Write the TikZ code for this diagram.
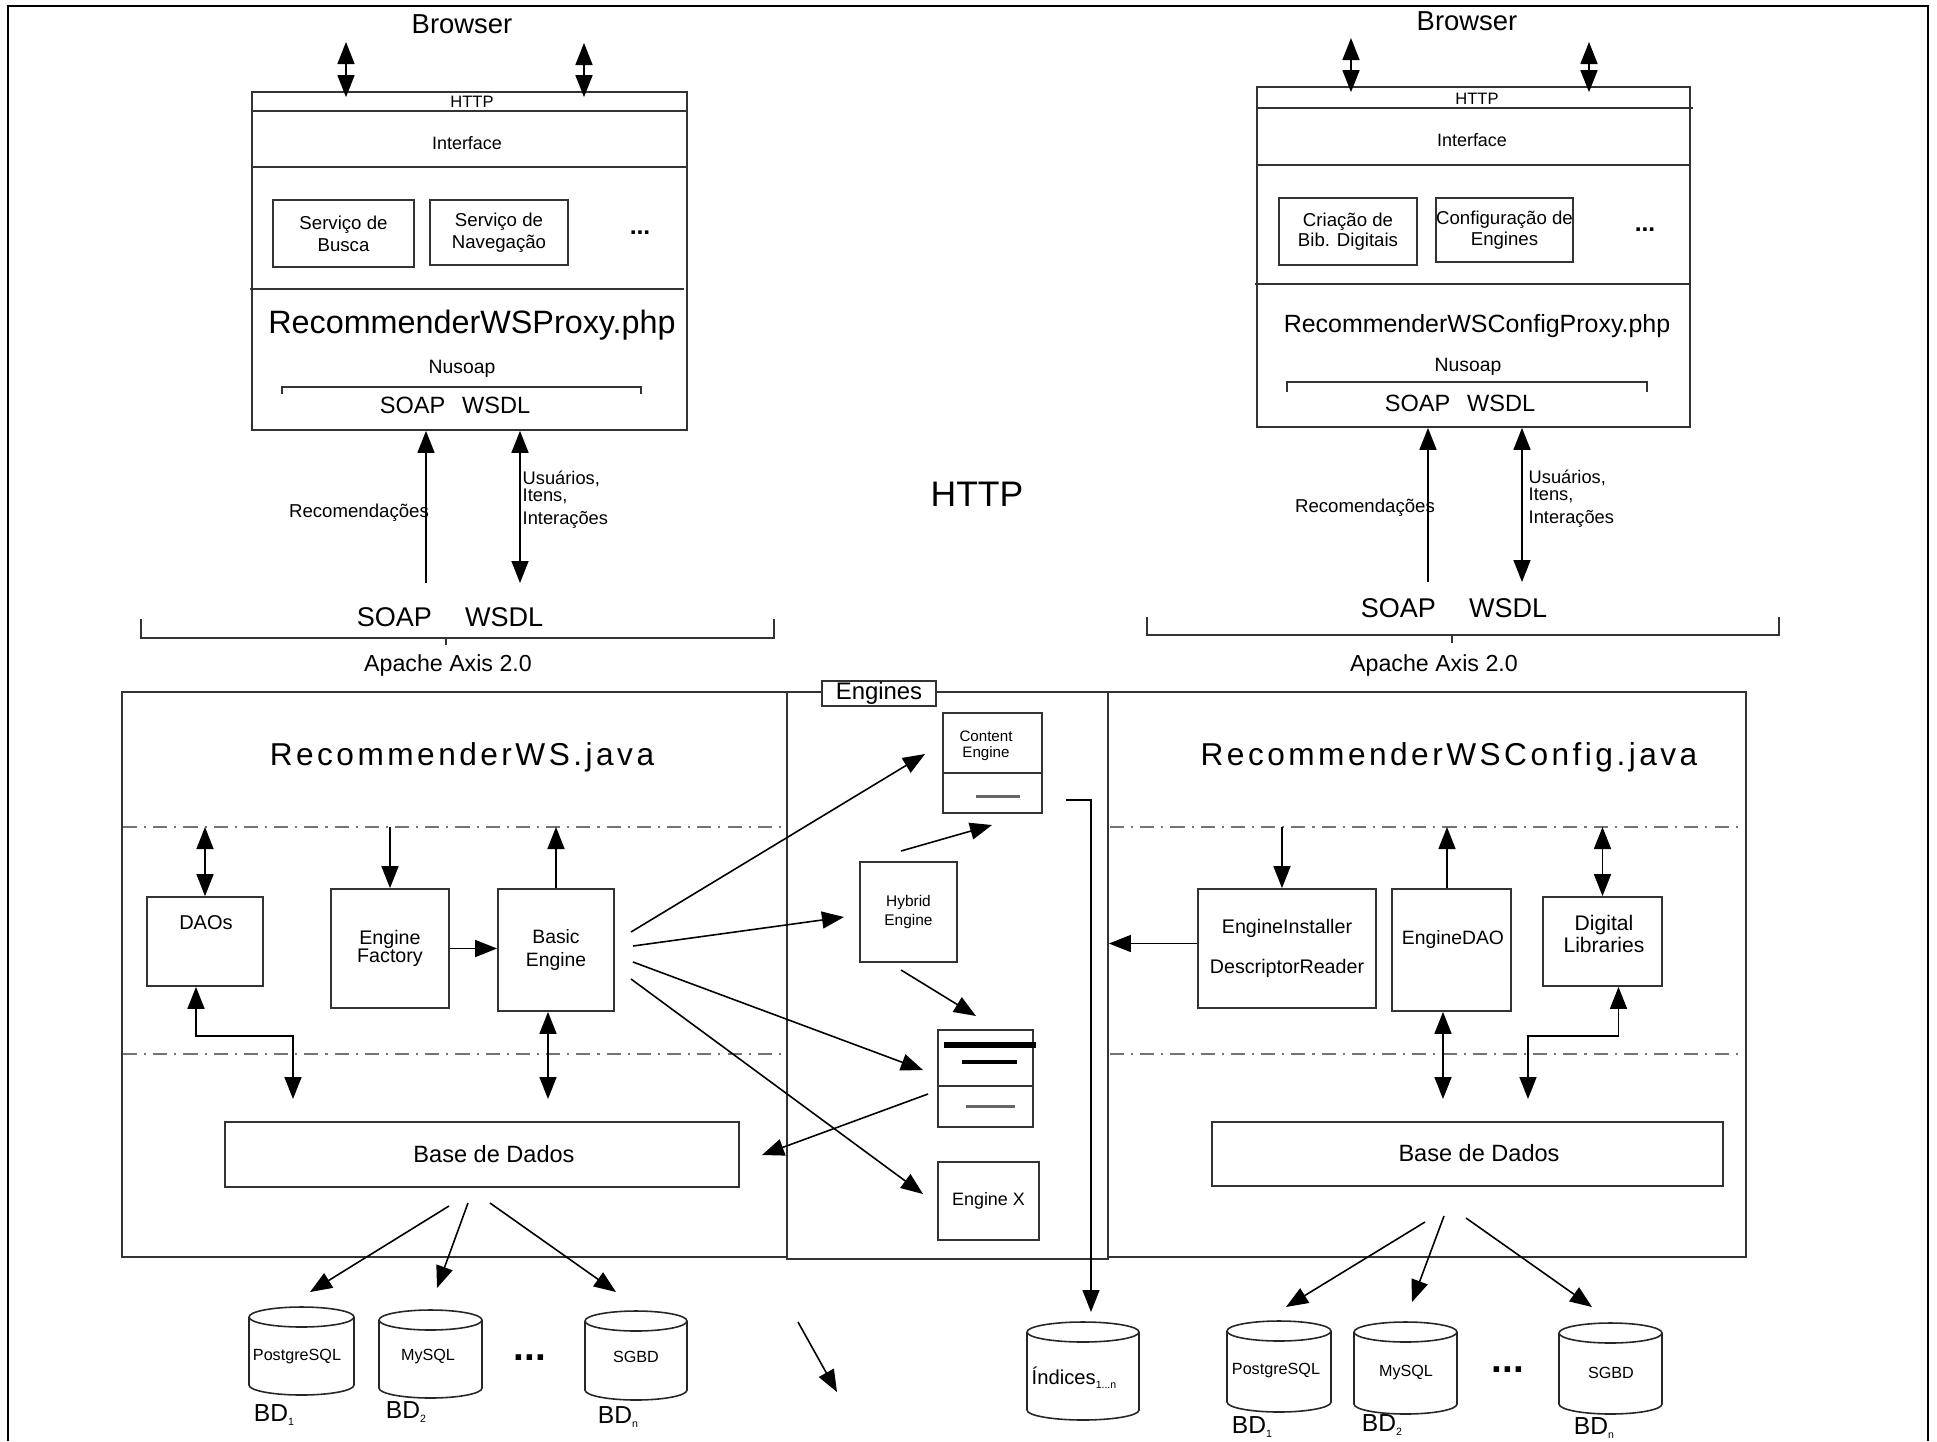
\documentclass[tikz,border=0pt]{standalone}
\usepackage{fontspec}
\setmainfont{Liberation Sans}
\newfontfamily\spacedfont[LetterSpace=11]{Liberation Sans}
\usetikzlibrary{arrows.meta}
\newcommand\dbsub[1]{\raisebox{-1.2pt}{\fontsize{3}{3}\selectfont #1}}
\tikzset{rule/.style={draw=black!80,line width=.5pt},
  box/.style={rule,inner sep=0pt,align=center},
  lbl/.style={inner sep=0pt,align=center,font=\fontsize{5.4}{6.2}\selectfont},
  lbltiny/.style={inner sep=0pt,align=center,font=\fontsize{4.3}{4.6}\selectfont},
  titletxt/.style={inner sep=0pt,font=\spacedfont\fontsize{9}{10}\selectfont},
  arr/.style={-{Triangle[length=2.2mm,width=1.7mm]},line width=.45pt},
  darr/.style={{Triangle[length=2.2mm,width=1.7mm]}-{Triangle[length=2.2mm,width=1.7mm]},line width=.45pt},
  layer/.style={draw=black!55,line width=.6pt,dash pattern=on 4pt off 2pt on .6pt off 2pt},
  cyl/.style={draw=black!85,line width=.45pt}}
\begin{document}
\begin{tikzpicture}[x=.1mm,y=-.1mm]
\useasboundingbox (0,0) rectangle (1937,1441);
\draw[line width=.6pt] (8,1441) -- (8,6) -- (1928,6) -- (1928,1441);

% php proxies
\node[box,minimum width=43.5mm,minimum height=33.8mm] (proxyL) at (469.5,261) {};
\node[box,minimum width=43.3mm,minimum height=34mm] (proxyR) at (1473.5,257) {};
\draw[rule] (252,111) -- (687,111) (252,167) -- (687,167) (250,289) -- (684,289);
\draw[rule] (1257,108) -- (1693,108) (1257,165) -- (1690,165) (1255,284) -- (1690,284);
\node[font=\fontsize{7.8}{9}\selectfont,inner sep=0pt] (brwL) at (462,24) {Browser};
\node[font=\fontsize{7.8}{9}\selectfont,inner sep=0pt] (brwR) at (1467,21) {Browser};
\node[lbl,font=\fontsize{4.7}{5}\selectfont] (httpL) at (472,102) {HTTP};
\node[lbl,font=\fontsize{4.7}{5}\selectfont] (httpR) at (1477,99) {HTTP};
\node[lbl,font=\fontsize{5.1}{6}\selectfont] (ifL) at (467,143) {Interface};
\node[lbl,font=\fontsize{5.1}{6}\selectfont] (ifR) at (1472,140) {Interface};
\node[box,minimum width=14.1mm,minimum height=6.7mm,font=\fontsize{5.3}{6.2}\selectfont] (busca) at (343.5,233.5) {Serviço de\\Busca};
\node[box,minimum width=13.8mm,minimum height=6.5mm,font=\fontsize{5.3}{6.2}\selectfont] (naveg) at (499,232.5) {Serviço de\\Navegação};
\node[box,minimum width=13.8mm,minimum height=6.7mm,font=\fontsize{5.3}{5.8}\selectfont] (criacao) at (1348,231.5) {Criação de\\Bib. Digitais};
\node[box,minimum width=13.7mm,minimum height=6.4mm,font=\fontsize{5.3}{5.8}\selectfont] (config) at (1504.5,230) {Configuração de\\Engines};
\node[inner sep=0pt,font=\bfseries\fontsize{7}{7}\selectfont] (dotsL) at (640,233) {...};
\node[inner sep=0pt,font=\bfseries\fontsize{7}{7}\selectfont] (dotsR) at (1645,230) {...};
\node[inner sep=0pt,font=\fontsize{9.2}{10}\selectfont] (nameL) at (472,325) {RecommenderWSProxy.php};
\node[inner sep=0pt,font=\fontsize{7.1}{8}\selectfont] (nameR) at (1477,326) {RecommenderWSConfigProxy.php};
\node[lbl,font=\fontsize{5.5}{6}\selectfont] (nuL) at (462,369) {Nusoap};
\node[lbl,font=\fontsize{5.5}{6}\selectfont] (nuR) at (1468,367) {Nusoap};
\draw[rule,line width=.4pt] (282,394) -- (282,387) -- (641,387) -- (641,394);
\draw[rule,line width=.4pt] (1287,392) -- (1287,382) -- (1647,382) -- (1647,392);
\node[lbl,font=\fontsize{6.7}{7}\selectfont] (soapL) at (455,405) {SOAP\hspace{4.8pt}WSDL};
\node[lbl,font=\fontsize{6.7}{7}\selectfont] (soapR) at (1460,403) {SOAP\hspace{4.8pt}WSDL};

% browser and soap arrows
\coordinate (brL1) at (346,42); \coordinate (brL2) at (584,43);
\coordinate (brR1) at (1351,38); \coordinate (brR2) at (1589,42);
\foreach \cc/\pp in {brL1/proxyL,brL2/proxyL,brR1/proxyR,brR2/proxyR}
  \draw[darr,shorten >=-.6mm] (\cc) -- (\cc |- \pp.north);
\coordinate (rcL) at (426,583); \coordinate (usL) at (520,583);
\coordinate (rcR) at (1428,582); \coordinate (usR) at (1522,582);
\foreach \cc/\pp in {rcL/proxyL,rcR/proxyR} \draw[arr] (\cc) -- (\cc |- \pp.south);
\foreach \cc/\pp in {usL/proxyL,usR/proxyR} \draw[darr] (\cc |- \pp.south) -- (\cc);
\node[lbl,font=\fontsize{5.3}{6}\selectfont] (recL) at (359,513) {Recomendações};
\node[lbl,font=\fontsize{5.3}{6}\selectfont] (recR) at (1365,508) {Recomendações};
\node[lbl,align=left,anchor=north west,font=\fontsize{5.2}{4.85}\selectfont] (usrL) at (522,470) {Usuários,\\Itens,\\[1.7pt]Interações};
\node[lbl,align=left,anchor=north west,font=\fontsize{5.2}{4.85}\selectfont] (usrR) at (1528,469) {Usuários,\\Itens,\\[1.7pt]Interações};
\node[inner sep=0pt,font=\fontsize{10.1}{11}\selectfont] (http) at (977,494) {HTTP};

% apache axis
\node[lbl,font=\fontsize{7.7}{8}\selectfont] (soapAL) at (450,617) {SOAP\hspace{9.4pt}WSDL};
\node[lbl,font=\fontsize{7.7}{8}\selectfont] (soapAR) at (1454,608) {SOAP\hspace{9.4pt}WSDL};
\draw[rule,line width=.4pt] (141,619) -- (141,638) -- (774,638) -- (774,619) (446,638) -- (446,645);
\draw[rule,line width=.4pt] (1147,617) -- (1147,635) -- (1779,635) -- (1779,617) (1452,635) -- (1452,643);
\node[lbl,font=\fontsize{6.6}{7}\selectfont] (axL) at (448,665) {Apache Axis 2.0};
\node[lbl,font=\fontsize{6.6}{7}\selectfont] (axR) at (1434,665) {Apache Axis 2.0};

% java services
\node[box,minimum width=66.5mm,minimum height=56.5mm] (wsL) at (454.5,974.5) {};
\node[box,minimum width=32.1mm,minimum height=56.7mm] (engP) at (947.5,975.5) {};
\node[box,minimum width=63.8mm,minimum height=56.5mm] (wsR) at (1427,974.5) {};
\node[box,fill=white,minimum width=11.4mm,minimum height=2.5mm,font=\fontsize{6.8}{7}\selectfont] (engT) at (879,693.5) {Engines};
\node[titletxt] (wsLt) at (462,757) {RecommenderWS.java};
\node[titletxt] (wsRt) at (1449,757) {RecommenderWSConfig.java};
\foreach \y in {827,1054}{
  \draw[layer] (123,\y) -- (785,\y);
  \draw[layer] (1110,\y) -- (1741,\y);}
\coordinate (lay) at (0,827);

% left side
\node[box,minimum width=11.6mm,minimum height=8.9mm] (dao) at (205,941.5) {};
\node[lbl,font=\fontsize{5.7}{6}\selectfont] (daoT) at (206,923) {DAOs};
\node[box,minimum width=11.8mm,minimum height=11.9mm,font=\fontsize{5.6}{5.2}\selectfont] (fac) at (390,948.5) {Engine\\Factory};
\node[box,minimum width=11.6mm,minimum height=12.2mm,font=\fontsize{5.5}{6.3}\selectfont] (basic) at (556,950) {Basic\\Engine};
\node[box,minimum width=51.4mm,minimum height=6.5mm] (bdL) at (482,1154.5) {};
\node[lbl,font=\fontsize{6.7}{7}\selectfont] (bdLt) at (494,1154) {Base de Dados};
\draw[darr] (dao.north) -- (dao.north |- lay);
\draw[arr] (fac.north |- lay) -- (fac.north);
\draw[arr] (basic.north) -- (basic.north |- lay);
\draw[arr] (fac.east) -- (fac.east -| basic.west);
\coordinate (bL1) at (293,1099); \coordinate (bL2) at (548,1099);
\draw[darr] ([xshift=-.9mm]dao.south) -- ++(0,49) -| (bL1);
\draw[darr] (basic.south -| bL2) -- (bL2);

% engines
\node[box,minimum width=9.9mm,minimum height=10mm] (content) at (992.5,763) {};
\node[lbltiny] (contentT) at (986,746) {Content\\Engine};
\draw[rule] (943,773) -- (1042,773);
\draw[draw=black!60,line width=.85pt] (976,796) -- (1020,796);
\node[box,minimum width=9.7mm,minimum height=10mm,font=\fontsize{4.4}{5.3}\selectfont] (hybrid) at (908.5,912) {Hybrid\\Engine};
\node[box,minimum width=9.5mm,minimum height=9.7mm] (mid) at (985.5,1078.5) {};
\draw[rule] (938,1086) -- (1033,1086);
\draw[line width=1.7pt] (944,1045) -- (1036,1045);
\draw[line width=1.4pt] (962,1062) -- (1017,1062);
\draw[draw=black!60,line width=.85pt] (966,1106) -- (1015,1106);
\node[box,minimum width=10.1mm,minimum height=7.8mm,font=\fontsize{5.1}{6}\selectfont] (engX) at (988.5,1201) {Engine X};
\coordinate (b1s) at (631,932); \coordinate (b1e) at (925,754);
\coordinate (b2s) at (633,946); \coordinate (b2e) at (844,917);
\coordinate (b3s) at (633,962); \coordinate (b3e) at (923,1070);
\coordinate (b4s) at (631,979); \coordinate (b4e) at (923,1194);
\coordinate (h1s) at (901,851); \coordinate (h1e) at (992,825);
\coordinate (h2s) at (901,970); \coordinate (h2e) at (976,1016);
\coordinate (m1s) at (928,1094); \coordinate (m1e) at (762,1155);
\foreach \aa/\bb in {b1s/b1e,b2s/b2e,b3s/b3e,b4s/b4e,h1s/h1e,h2s/h2e,m1s/m1e}
  \draw[arr] (\aa) -- (\bb);
\coordinate (c1s) at (1066,800); \coordinate (c1e) at (1091,1312);
\draw[arr] (c1s) -| (c1e);

% right side
\node[box,minimum width=17.8mm,minimum height=11.9mm,font=\fontsize{5.6}{6.1}\selectfont] (inst) at (1287,948.5) {EngineInstaller\\[5.3pt]DescriptorReader};
\node[box,minimum width=11.9mm,minimum height=12.2mm] (edao) at (1451.5,950) {};
\node[lbl,font=\fontsize{5.5}{6}\selectfont] (edaoT) at (1453,939) {EngineDAO};
\node[box,minimum width=11.9mm,minimum height=8.9mm] (dl) at (1602.5,941.5) {};
\node[lbl,font=\fontsize{6}{6.3}\selectfont] (dlT) at (1604,934) {Digital\\Libraries};
\node[box,minimum width=51.1mm,minimum height=6.4mm] (bdR) at (1467.5,1154) {};
\node[lbl,font=\fontsize{6.7}{7}\selectfont] (bdRt) at (1479,1153) {Base de Dados};
\draw[arr] ([xshift=-.5mm]inst.north |- lay) -- ([xshift=-.5mm]inst.north);
\draw[arr] ([yshift=.5mm]inst.west) -- ([yshift=.5mm]inst.west -| engP.east);
\draw[arr] ([xshift=-.45mm]edao.north) -- ([xshift=-.45mm]edao.north |- lay);
\draw[darr] (dl.north) -- (dl.north |- lay);
\coordinate (bR1) at (1443,1099); \coordinate (bR2) at (1528,1099);
\draw[darr] (edao.south -| bR1) -- (bR1);
\draw[darr] ([xshift=1.6mm]dl.south) -- ++(0,49) -| (bR2);

% databases
\foreach \nm/\xc/\yc/\rx/\yb in {pgL/301.5/1317/5.25/1385,myL/430.5/1320/5.15/1388,
    sgL/636/1321/5.1/1390,ixN/1083/1332/5.6/1410,pgR/1279/1331/5.2/1402,
    myR/1405.5/1332/5.15/1404,sgR/1610.5/1333/5.15/1404}{
  \draw[cyl] ([xshift=-\rx mm]\xc,\yc) -- ([xshift=-\rx mm]\xc,\yb)
    arc[start angle=180,end angle=360,x radius=\rx mm,y radius=1mm] -- ([xshift=\rx mm]\xc,\yc);
  \draw[cyl] (\xc,\yc) ellipse[x radius=\rx mm,y radius=1mm];
  \coordinate (\nm) at ([yshift=1mm]\xc,\yc);}
\foreach \nm/\x/\y/\lab in {pgLt/297/1357/PostgreSQL,myLt/428/1357/MySQL,sgLt/636/1357/SGBD,
    pgRt/1276/1371/PostgreSQL,myRt/1406/1373/MySQL,sgRt/1611/1373/SGBD}
  \node[lbl,font=\fontsize{4.6}{5}\selectfont] (\nm) at (\x,\y) {\lab};
\node[lbl,font=\fontsize{5.75}{6}\selectfont] (ixT) at (1074,1378) {Índices\dbsub{1...n}};
\foreach \nm/\x/\y/\s in {bd1L/274/1415/1,bd2L/406/1412/2,bdnL/618/1417/n,
    bd1R/1252/1427/1,bd2R/1382/1425/2,bdnR/1594/1428/n}
  \node[inner sep=0pt,font=\fontsize{7}{8}\selectfont] (\nm) at (\x,\y) {BD\dbsub{\s}};
\node[inner sep=0pt,font=\bfseries\fontsize{11}{12}\selectfont] (dbdotsL) at (530,1358) {...};
\node[inner sep=0pt,font=\bfseries\fontsize{11}{12}\selectfont] (dbdotsR) at (1508,1370) {...};
\coordinate (dL1s) at (449,1206); \coordinate (dL1e) at (310,1292);
\coordinate (dL2s) at (468,1203); \coordinate (dL2e) at (437,1288);
\coordinate (dL3s) at (490,1203); \coordinate (dL3e) at (616,1292);
\coordinate (dR1s) at (1425,1222); \coordinate (dR1e) at (1286,1307);
\coordinate (dR2s) at (1444,1216); \coordinate (dR2e) at (1412,1302);
\coordinate (dR3s) at (1466,1218); \coordinate (dR3e) at (1592,1307);
\coordinate (st1) at (798,1322); \coordinate (st2) at (837,1392);
\foreach \aa/\bb in {dL1s/dL1e,dL2s/dL2e,dL3s/dL3e,dR1s/dR1e,dR2s/dR2e,dR3s/dR3e,st1/st2}
  \draw[arr] (\aa) -- (\bb);
\end{tikzpicture}
\end{document}
